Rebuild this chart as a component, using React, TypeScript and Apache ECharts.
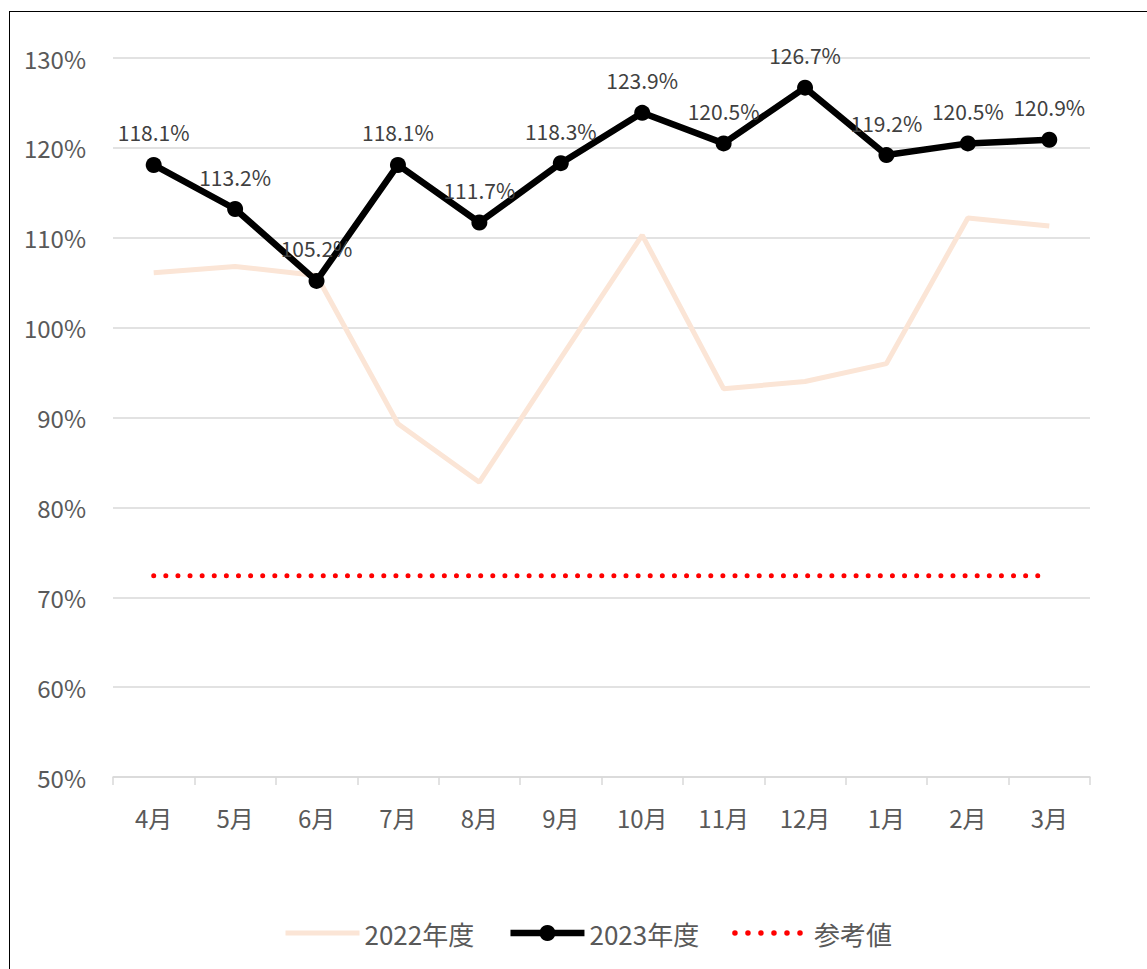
import React, { useEffect, useRef } from "react";
import * as echarts from "echarts";

const categories = ["4月", "5月", "6月", "7月", "8月", "9月", "10月", "11月", "12月", "1月", "2月", "3月"];
const fy2022 = [106.1, 106.8, 105.8, 89.3, 82.8, 96.6, 110.3, 93.2, 94.0, 96.0, 112.2, 111.3];
const fy2023 = [118.1, 113.2, 105.2, 118.1, 111.7, 118.3, 123.9, 120.5, 126.7, 119.2, 120.5, 120.9];
const reference = [72.4, 72.4, 72.4, 72.4, 72.4, 72.4, 72.4, 72.4, 72.4, 72.4, 72.4, 72.4];
const seriesNames = ["2022年度", "2023年度", "参考値"];
const yMin = 50;
const yMax = 130;
const yStep = 10;

const FONT = '"Noto Sans CJK JP", "Noto Sans", sans-serif';

export default function App() {
  const ref = useRef<HTMLDivElement>(null);
  useEffect(() => {
    if (!ref.current) return;
    const chart = echarts.init(ref.current, null, { renderer: "svg" });
    chart.setOption({
      animation: false,
      textStyle: { fontFamily: FONT },
      grid: { left: 113, right: 57, top: 58, bottom: 192, containLabel: false },
      legend: {
        left: 283,
        top: 920,
        padding: 0,
        itemWidth: 74,
        itemHeight: 20,
        itemGap: 33,
        textStyle: { fontSize: 26, color: "#595959", fontFamily: FONT },
        data: [
          { name: seriesNames[0], itemStyle: { opacity: 0 }, lineStyle: { width: 5 } },
          { name: seriesNames[1], lineStyle: { width: 6.5 } },
          { name: seriesNames[2], itemStyle: { opacity: 0 }, lineStyle: { width: 5.5, type: [0.01, 13], cap: "round" } },
        ],
      },
      xAxis: {
        type: "category",
        data: categories,
        boundaryGap: true,
        axisLine: { lineStyle: { color: "#D9D9D9", width: 1.5 } },
        axisTick: { show: true, length: 8, lineStyle: { color: "#D9D9D9", width: 1.5 } },
        axisLabel: { fontSize: 24, color: "#595959", margin: 28, fontFamily: FONT },
      },
      yAxis: {
        type: "value",
        min: yMin,
        max: yMax,
        interval: yStep,
        axisLine: { show: false },
        axisTick: { show: false },
        axisLabel: {
          fontSize: 24,
          color: "#595959",
          margin: 27,
          fontFamily: FONT,
          formatter: (v: number) => `${v}%`,
        },
        splitLine: { lineStyle: { color: "#D9D9D9", width: 1.5 } },
      },
      series: [
        {
          name: seriesNames[0],
          type: "line",
          data: fy2022,
          symbol: "none",
          lineStyle: { color: "#FBE5D6", width: 5 },
          itemStyle: { color: "#FBE5D6" },
          z: 2,
        },
        {
          name: seriesNames[2],
          type: "line",
          data: reference,
          symbol: "none",
          lineStyle: { color: "#FF0000", width: 5, type: [0.01, 12.1], cap: "round" },
          itemStyle: { color: "#FF0000" },
          z: 3,
        },
        {
          name: seriesNames[1],
          type: "line",
          data: fy2023,
          symbol: "circle",
          symbolSize: 16,
          lineStyle: { color: "#000000", width: 6.5 },
          itemStyle: { color: "#000000" },
          label: {
            show: true,
            position: "top",
            distance: 14,
            fontSize: 21,
            color: "#404040",
            fontFamily: FONT,
            formatter: (p: any) => `${Number(p.value).toFixed(1)}%`,
          },
          z: 4,
        },
      ],
    });
    return () => chart.dispose();
  }, []);
  return (
    <div style={{ position: "absolute", left: 0, top: 0, width: 1147, height: 969, overflow: "hidden", background: "#fff" }}>
      <div
        style={{
          position: "absolute",
          left: 9,
          top: 11,
          width: 1160,
          height: 1000,
          border: "1.5px solid #000",
          boxSizing: "border-box",
        }}
      />
      <div ref={ref} style={{ position: "absolute", left: 0, top: 0, width: 1147, height: 969 }} />
    </div>
  );
}
